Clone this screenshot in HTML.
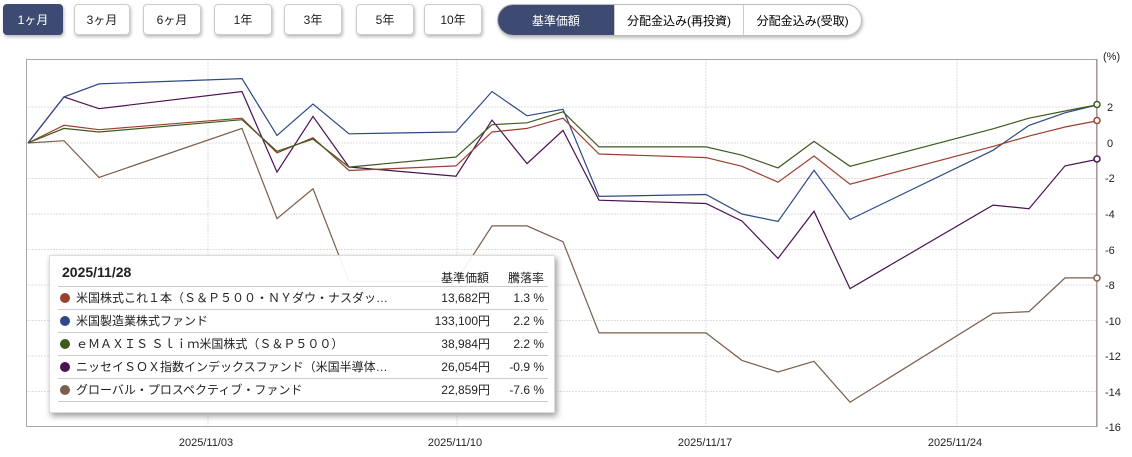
<!DOCTYPE html>
<html><head><meta charset="utf-8"><style>
body{margin:0;width:1132px;height:457px;background:#fff;overflow:hidden;font-family:"Liberation Sans","Noto Sans CJK JP",sans-serif;position:relative}
.b{position:absolute;top:4px;height:31px;border:1px solid #ccc;border-radius:4px;background:#fff;box-shadow:1px 2px 3px #bbb;font-size:12px;line-height:31px;text-align:center;color:#222;box-sizing:border-box}
.d{background:#3d4b72;color:#fff;border-color:#3d4b72}
.g{position:absolute;left:497px;top:4px;width:365px;height:32px;border:1px solid #bbb;border-radius:16px;overflow:hidden;box-shadow:1px 2px 3px #bbb;display:flex;font-size:12px;line-height:32px;box-sizing:border-box}
.g div{text-align:center;border-right:1px solid #ccc}
.tt{position:absolute;left:49px;top:255px;width:506px;height:158px;background:rgba(255,255,255,0.93);border:1px solid #ddd;box-shadow:2px 3px 6px #999;box-sizing:border-box;font-size:12px;color:#222}
.r{position:absolute;left:8px;width:490px;height:22px;border-bottom:1px solid #ccc;line-height:22px}
.r .n{position:absolute;left:18px}.r .p{position:absolute;right:58px}.r .c{position:absolute;right:4px}
.dot{position:absolute;left:2px;top:6px;width:10px;height:10px;border-radius:50%}
</style></head><body>
<div class="b d" style="left:3px;width:60px">1ヶ月</div>
<div class="b" style="left:74px;width:56px">3ヶ月</div>
<div class="b" style="left:143px;width:58px">6ヶ月</div>
<div class="b" style="left:214px;width:58px">1年</div>
<div class="b" style="left:284px;width:58px">3年</div>
<div class="b" style="left:356px;width:58px">5年</div>
<div class="b" style="left:424px;width:58px">10年</div>
<div class="g"><div style="width:117px;background:#3d4b72;color:#fff">基準価額</div><div style="width:130px">分配金込み(再投資)</div><div style="width:118px;border:none">分配金込み(受取)</div></div>
<svg width="1132" height="457" style="position:absolute;left:0;top:0">
<g stroke="#ddd" stroke-dasharray="2,1" stroke-width="1">
<line x1="26" x2="1097" y1="107" y2="107"/><line x1="26" x2="1097" y1="143" y2="143"/><line x1="26" x2="1097" y1="178.5" y2="178.5"/><line x1="26" x2="1097" y1="214" y2="214"/><line x1="26" x2="1097" y1="249.5" y2="249.5"/><line x1="26" x2="1097" y1="285" y2="285"/><line x1="26" x2="1097" y1="320.5" y2="320.5"/><line x1="26" x2="1097" y1="356" y2="356"/><line x1="26" x2="1097" y1="391.5" y2="391.5"/>
<line x1="208" x2="208" y1="59" y2="427"/><line x1="457" x2="457" y1="59" y2="427"/><line x1="706" x2="706" y1="59" y2="427"/><line x1="957" x2="957" y1="59" y2="427"/>
</g>
<rect x="26.5" y="59.5" width="1070" height="367" fill="none" stroke="#aaa"/>
<line x1="1097" x2="1097" y1="59" y2="427" stroke="#b08080"/>
<g fill="none" stroke-width="1.2">
<polyline stroke="#7a5f4e" points="28,143 64,140.7 99,177.4 242,128.4 277,218.6 313,188.8 349,281.5 456,281.5 492,225.9 527,225.9 563,241.7 599,332.9 706,332.9 742,360.4 778,372 814,361.3 850,402.2 993,313.4 1029,311.6 1065,277.9 1099,277.9"/>
<polyline stroke="#4a1250" points="28,143 64,96.9 99,108.7 242,91.5 277,172.1 313,116.4 349,167 456,176.2 492,120.1 527,163.6 563,130.4 599,200.2 706,203.5 742,221.1 778,258.4 814,211.2 850,288.6 993,205.1 1029,208.7 1065,165.9 1099,159"/>
<polyline stroke="#2d4a86" points="28,143 64,96.9 99,83.9 242,78.6 277,135.4 313,104 349,133.8 456,132 492,91.5 527,115.8 563,109.3 599,196.4 706,194.5 742,214 778,221.5 814,170.3 850,219.5 993,150.3 1029,125.4 1065,112.8 1099,104.5"/>
<polyline stroke="#9b3f2f" points="28,143 64,125.3 99,129.7 242,118.2 277,152.9 313,137.7 349,170.5 456,165.9 492,132 527,128.4 563,118.2 599,154 706,157.6 742,166.3 778,182.2 814,156 850,184.2 993,146.4 1029,136.1 1065,127 1099,120.5"/>
<polyline stroke="#3f5a1e" points="28,143 64,128.4 99,132 242,119.7 277,151.3 313,139.1 349,167.1 456,157 492,124.7 527,122.8 563,111.8 599,146.9 706,146.9 742,155.2 778,167.9 814,141.4 850,166.3 993,128.8 1029,118.2 1065,111 1099,104.5"/>
</g>
<g fill="#fff" stroke-width="1.5">
<circle cx="1097" cy="278" r="3" stroke="#7a5f4e"/><circle cx="1097" cy="159" r="3" stroke="#4a1250"/><circle cx="1097" cy="120.5" r="3" stroke="#9b3f2f"/><circle cx="1097" cy="104.5" r="3" stroke="#3f5a1e"/>
</g>
<g font-size="11" fill="#222" font-family="Liberation Sans, sans-serif">
<text x="1103" y="60">(%)</text>
<text x="1107" y="111">2</text><text x="1107" y="147">0</text><text x="1105" y="182">-2</text><text x="1105" y="218">-4</text><text x="1105" y="254">-6</text><text x="1105" y="289">-8</text><text x="1105" y="325">-10</text><text x="1105" y="360">-12</text><text x="1105" y="396">-14</text><text x="1105" y="431">-16</text>
<g text-anchor="middle"><text x="206" y="446">2025/11/03</text><text x="455" y="446">2025/11/10</text><text x="705" y="446">2025/11/17</text><text x="955" y="446">2025/11/24</text></g>
</g>
</svg>
<div class="tt">
<div style="position:absolute;left:12px;top:8px;font-size:14px;font-weight:bold">2025/11/28</div>
<div style="position:absolute;left:391px;top:13px">基準価額</div>
<div style="position:absolute;left:458px;top:13px">騰落率</div>
<div style="position:absolute;left:8px;width:490px;top:30px;border-top:1px solid #ccc"></div>
<div class="r" style="top:31px"><span class="dot" style="background:#9b3f2f"></span><span class="n">米国株式これ１本（Ｓ＆Ｐ５００・ＮＹダウ・ナスダッ…</span><span class="p">13,682円</span><span class="c">1.3 %</span></div>
<div class="r" style="top:54px"><span class="dot" style="background:#2d4a86"></span><span class="n">米国製造業株式ファンド</span><span class="p">133,100円</span><span class="c">2.2 %</span></div>
<div class="r" style="top:77px"><span class="dot" style="background:#3f5a1e"></span><span class="n">ｅＭＡＸＩＳ Ｓｌｉｍ米国株式（Ｓ＆Ｐ５００）</span><span class="p">38,984円</span><span class="c">2.2 %</span></div>
<div class="r" style="top:100px"><span class="dot" style="background:#4a1250"></span><span class="n">ニッセイＳＯＸ指数インデックスファンド（米国半導体…</span><span class="p">26,054円</span><span class="c">-0.9 %</span></div>
<div class="r" style="top:123px"><span class="dot" style="background:#7a5f4e"></span><span class="n">グローバル・プロスペクティブ・ファンド</span><span class="p">22,859円</span><span class="c">-7.6 %</span></div>
</div>
</body></html>
